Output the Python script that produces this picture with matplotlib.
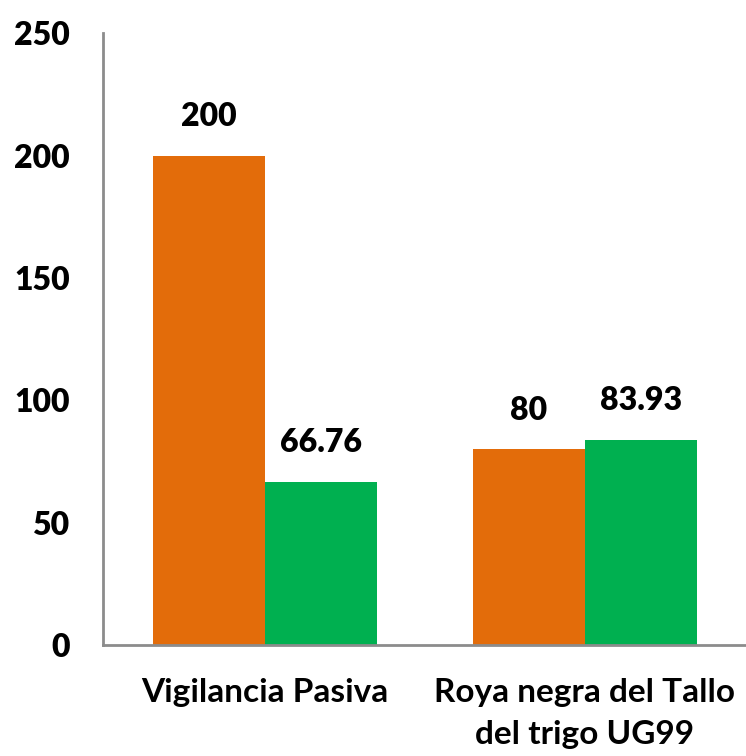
import matplotlib
matplotlib.use("Agg")
import matplotlib.pyplot as plt
import numpy as np

categories = ["Vigilancia Pasiva", "Roya negra del Tallo\ndel trigo UG99"]
serie_a = [200, 80]
serie_b = [66.76, 83.93]
labels_a = ["200", "80"]
labels_b = ["66.76", "83.93"]
yticks = [0, 50, 100, 150, 200, 250]

ORANGE = "#E36C0A"
GREEN = "#00B050"
AXIS_GRAY = "#8C8C8C"

plt.rcParams["font.family"] = ["Lato", "DejaVu Sans"]
plt.rcParams["font.weight"] = "bold"

fig = plt.figure(figsize=(7.46, 7.56), dpi=100)
ax = fig.add_axes([0.138, 0.147, 0.862, 0.809])

x = np.arange(len(categories))
w = 0.35
ax.bar(x - w / 2, serie_a, w, color=ORANGE)
ax.bar(x + w / 2, serie_b, w, color=GREEN)

# data labels
for xi, v, t in zip(x - w / 2, serie_a, labels_a):
    ax.text(xi, v + 10, t, ha="center", va="bottom", fontsize=23, fontweight="heavy")
for xi, v, t in zip(x + w / 2, serie_b, labels_b):
    ax.text(xi, v + 10, t, ha="center", va="bottom", fontsize=23, fontweight="heavy")

ax.set_xlim(-0.506, 1.503)
ax.set_ylim(0, 250)
ax.set_yticks(yticks)
ax.set_yticklabels([str(t) for t in yticks], fontsize=23, fontweight="heavy")
ax.set_xticks(x)
ax.set_xticklabels(categories, fontsize=24, fontweight="bold", linespacing=1.55)
ax.tick_params(axis="y", length=0, pad=24)
ax.tick_params(axis="x", length=0, pad=24)

for s in ["top", "right"]:
    ax.spines[s].set_visible(False)
for s in ["left", "bottom"]:
    ax.spines[s].set_color(AXIS_GRAY)
    ax.spines[s].set_linewidth(2)

fig.savefig("out.png", dpi=100)
